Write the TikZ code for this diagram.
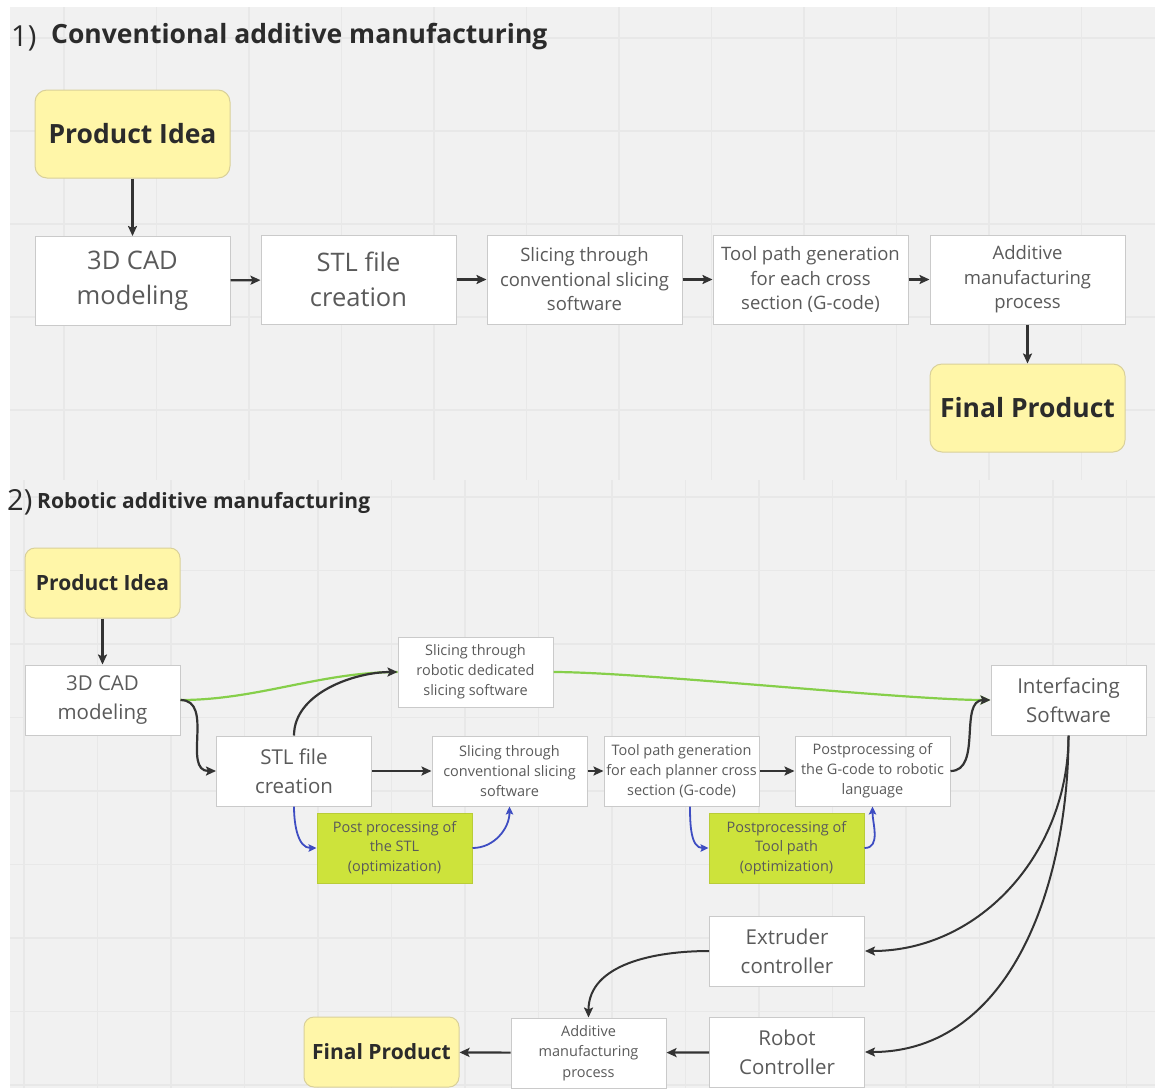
\documentclass[tikz,border=0pt]{standalone}
\usepackage{fontspec}
\setmainfont{Open Sans}
\usetikzlibrary{arrows.meta}
\definecolor{bgc}{HTML}{F1F1F1}
\definecolor{gridc}{HTML}{E8E8E8}
\definecolor{yel}{HTML}{FFF6A8}
\definecolor{yelb}{HTML}{D9D09A}
\definecolor{boxb}{HTML}{CACACA}
\definecolor{txt}{HTML}{5A5A5A}
\definecolor{dark}{HTML}{2B2B2B}
\definecolor{grn}{HTML}{CDE33B}
\definecolor{grnb}{HTML}{B9CC38}
\definecolor{bluec}{HTML}{3E4DC2}
\definecolor{greenl}{HTML}{86CF4A}
\definecolor{arr}{HTML}{333333}
\tikzset{
  box/.style={draw=boxb, line width=1pt, fill=white, text=txt, align=center, inner sep=0pt},
  yelbox/.style={draw=yelb, line width=1pt, fill=yel, text=dark, align=center, inner sep=0pt, rounded corners=12pt, font=\bfseries},
  grnbox/.style={draw=grnb, line width=1pt, fill=grn, text=txt, align=center, inner sep=0pt},
  big/.style={minimum width=195pt, minimum height=89pt},
  small/.style={minimum width=155pt, minimum height=70pt},
  conn/.style={draw=arr, line width=2.2pt, -{Stealth[length=10pt,width=9pt,inset=2pt]}},
  bconn/.style={draw=bluec, line width=1.8pt, -{Stealth[length=8pt,width=7.5pt,inset=1.5pt]}},
  gconn/.style={draw=greenl, line width=2.2pt},
}
\newcommand{\fs}[2]{\fontsize{#1}{#2}\selectfont}
\begin{document}
\begin{tikzpicture}[x=1pt,y=-1pt]
\useasboundingbox (0,0) rectangle (1155,1090);
\fill[white] (0,0) rectangle (1155,1090);
% panels
\fill[bgc] (10,7) rectangle (1155,480);
\fill[bgc] (10,480) rectangle (1155,1088);
\begin{scope}
\clip (10,7) rectangle (1155,480);
\foreach \i in {0,...,12} {\draw[gridc, line width=1.5pt] (64+92.5*\i,7) -- (64+92.5*\i,480);}
\foreach \j in {0,...,4} {\draw[gridc, line width=1.5pt] (10,38+93*\j) -- (1155,38+93*\j);}
\end{scope}
\begin{scope}
\clip (10,480) rectangle (1155,1088);
\foreach \i in {0,...,15} {\draw[gridc, line width=1.5pt] (24+73.5*\i,480) -- (24+73.5*\i,1088);}
\foreach \j in {0,...,8} {\draw[gridc, line width=1.5pt] (10,497+73.5*\j) -- (1155,497+73.5*\j);}
\end{scope}

% ---------- Panel 1 ----------
\node[anchor=west, text=dark, inner sep=0pt, font=\fs{29}{30}] (t1n) at (11,38) {1)};
\node[anchor=west, text=dark, inner sep=0pt, font=\bfseries\fs{26.5}{28}] (t1) at (51,37) {Conventional additive manufacturing};

\node[yelbox, minimum width=195pt, minimum height=88pt, font=\bfseries\fs{26.5}{30}] (pi1) at (132.5,134) {Product Idea};
\node[box, big, font=\fs{25.5}{35}] (cad1) at (132.5,281) {3D CAD\\modeling};
\node[box, big, font=\fs{25.5}{35}] (stl1) at (358.5,279.5) {STL file\\creation};
\node[box, big, font=\fs{18.5}{24.5}] (sl1) at (584.5,279.5) {Slicing through\\conventional slicing\\software};
\node[box, big, font=\fs{18.5}{24.5}] (tp1) at (810.5,279.5) {Tool path generation\\for each cross\\section (G-code)};
\node[box, big, font=\fs{18.5}{24.5}] (am1) at (1027.5,279.5) {Additive\\manufacturing\\process};
\node[yelbox, minimum width=195pt, minimum height=88pt, font=\bfseries\fs{26.5}{30}] (fp1) at (1027.5,408) {Final Product};

\draw[conn] (pi1) -- (cad1);
\draw[conn] (cad1) -- (stl1);
\draw[conn] (stl1) -- (sl1);
\draw[conn] (sl1) -- (tp1);
\draw[conn] (tp1) -- (am1);
\draw[conn] (am1) -- (fp1);

% ---------- Panel 2 ----------
\node[anchor=west, text=dark, inner sep=0pt, font=\fs{29}{30}] (t2n) at (7,502) {2)};
\node[anchor=west, text=dark, inner sep=0pt, font=\bfseries\fs{21}{24}] (t2) at (37,503) {Robotic additive manufacturing};

\node[yelbox, small, rounded corners=10pt, font=\bfseries\fs{21}{24}] (pi2) at (102.5,583) {Product Idea};
\node[box, small, font=\fs{20.5}{29}] (cad2) at (102.5,700) {3D CAD\\modeling};
\node[box, small, font=\fs{14.5}{20}] (rob) at (475.5,672) {Slicing through\\robotic dedicated\\slicing software};
\node[box, small, font=\fs{20.5}{29}] (intf) at (1068.5,700) {Interfacing\\Software};
\node[box, small, font=\fs{20.5}{29}] (stl2) at (294,771) {STL file\\creation};
\node[box, small, font=\fs{14.5}{20}] (conv) at (509.5,771) {Slicing through\\conventional slicing\\software};
\node[box, small, font=\fs{14.5}{20}] (tp2) at (681.5,771) {Tool path generation\\for each planner cross\\section (G-code)};
\node[box, small, font=\fs{14.5}{20}] (post) at (872.5,771) {Postprocessing of\\the G-code to robotic\\language};
\node[grnbox, small, font=\fs{14.5}{19.5}] (g1) at (394.5,848) {Post processing of\\the STL\\(optimization)};
\node[grnbox, small, font=\fs{14.5}{19.5}] (g2) at (786.5,848) {Postprocessing of\\Tool path\\(optimization)};
\node[box, small, font=\fs{20.5}{29}] (ext) at (787,951) {Extruder\\controller};
\node[box, small, font=\fs{14.5}{20.5}] (am2) at (588.5,1053) {Additive\\manufacturing\\process};
\node[box, small, font=\fs{20.5}{29}] (robc) at (787,1052) {Robot\\Controller};
\node[yelbox, small, rounded corners=10pt, font=\bfseries\fs{21}{24}] (fp2) at (381.5,1052) {Final Product};

% connectors panel 2
\draw[conn] (pi2) -- (cad2);
\draw[gconn] (cad2.east) to[out=0, in=180, looseness=0.9] (rob.west);
\draw[conn] (cad2.east) to[out=0, in=180, looseness=1.1] (stl2.west);
\draw[conn] (stl2.north) to[out=90, in=180, looseness=0.9] (rob.west);
\draw[gconn, -{Stealth[length=10pt,width=9pt,inset=2pt]}] (rob.east) to[out=0, in=180, looseness=0.5] (intf.west);
\draw[conn] (stl2) -- (conv);
\draw[conn] (conv) -- (tp2);
\draw[conn] (tp2) -- (post);
\draw[conn] (post.east) to[out=0, in=180, looseness=1] (intf.west);
\draw[bconn] (stl2.south) to[out=-90, in=180, looseness=1] (g1.west);
\draw[bconn] (g1.east) to[out=0, in=-90, looseness=1] (conv.south);
\draw[bconn] ([xshift=8.5pt]tp2.south) to[out=-90, in=180, looseness=1] (g2.west);
\draw[bconn] (g2.east) to[out=0, in=-90, looseness=1] (post.south);
\draw[conn, line width=2pt] (intf.south) to[out=-90, in=0, looseness=1] (ext.east);
\draw[conn, line width=2pt] (intf.south) to[out=-90, in=0, looseness=1] (robc.east);
\draw[conn, line width=2pt] (ext.west) to[out=180, in=90, looseness=1] (am2.north);
\draw[conn] (robc) -- (am2);
\draw[conn] (am2) -- (fp2);
\end{tikzpicture}
\end{document}
